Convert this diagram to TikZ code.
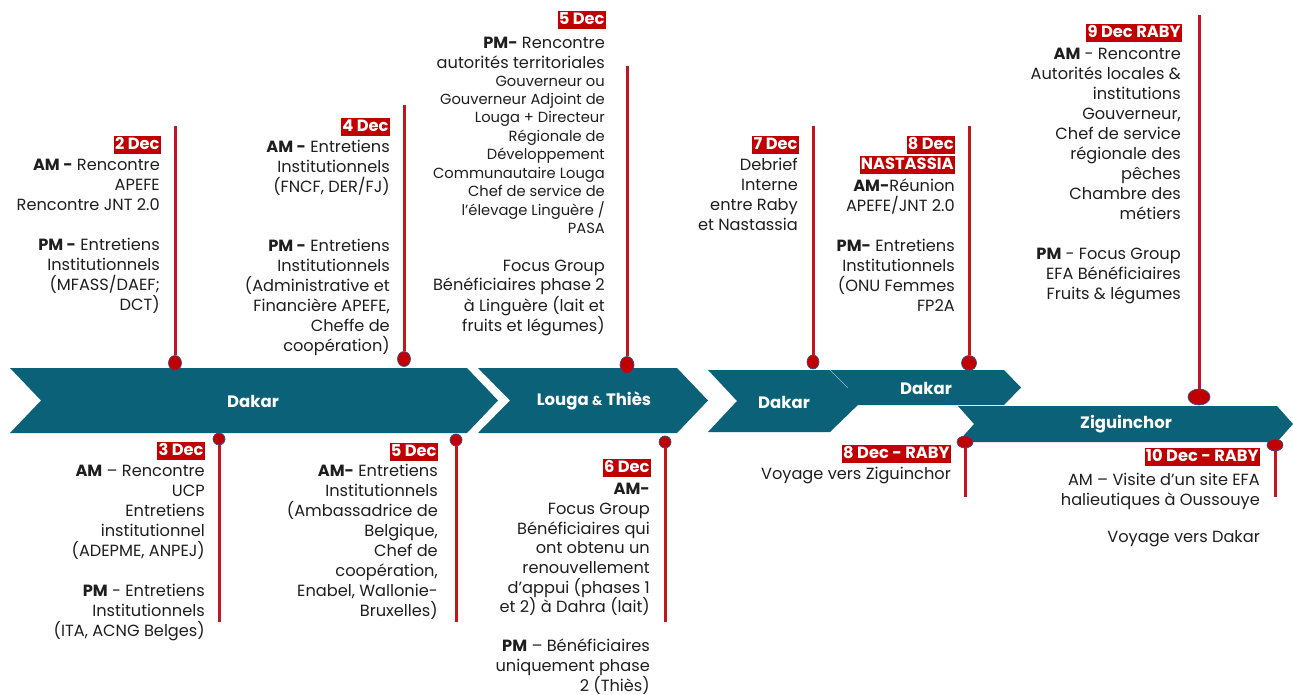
\documentclass[tikz,border=0pt]{standalone}
\usepackage{fontspec}
\setmainfont{Poppins}
\usetikzlibrary{shapes.geometric}
\definecolor{band}{HTML}{0B6177}
\definecolor{datered}{HTML}{C00000}
\definecolor{stemred}{HTML}{C0161C}
\definecolor{dotedge}{HTML}{3A4D8F}
\definecolor{ink}{HTML}{1E1E1E}
\definecolor{seam}{HTML}{9DB8C2}
\newcommand{\lnstart}{\rule{0pt}{13pt}}
\tikzset{
  bandshape/.style={fill=band, draw=none},
  bandlabel/.style={text=white, font=\bfseries\fontsize{16.5}{18}\selectfont, inner sep=0},
  datebox/.style={fill=datered, text=white, font=\bfseries\fontsize{16.3}{18}\selectfont,
    inner xsep=1.2pt, inner ysep=1.5pt, text height=12pt, text depth=3pt, anchor=east},
  txt/.style={align=right, anchor=north east, inner sep=0, text=ink,
    font=\fontsize{16.2}{20}\selectfont},
  smalltxt/.style={txt, font=\fontsize{14.7}{18.4}\selectfont},
  stem/.style={draw=stemred, line width=3pt},
  dot/.style={ellipse, fill=datered, draw=dotedge, line width=0.7pt, inner sep=0},
}
\begin{document}
\begin{tikzpicture}[x=1pt,y=-1pt]
\useasboundingbox (0,0) rectangle (1293,695);

% ---- location bands ----
\fill[bandshape] (10,368) -- (467,368) -- (498,400.5) -- (467,433) -- (10,433) -- (41,400.5) -- cycle;
\node[bandlabel] (dakarA) at (253,401) {Dakar};

\fill[bandshape] (478,368) -- (677,368) -- (708,400.5) -- (677,433) -- (478,433) -- (510,400.5) -- cycle;
\node[bandlabel] (louga) at (594,401) {Louga {\fontsize{13}{14}\selectfont\&} Thiès};

\fill[bandshape] (830,370) -- (1004,370) -- (1021,387.5) -- (1004,405) -- (830,405) -- cycle;
\fill[bandshape] (708,370) -- (830,370) -- (862,401) -- (830,432) -- (708,432) -- (737,401) -- cycle;
\draw[seam, line width=0.6pt] (830,370) -- (848,388);
\node[bandlabel] (dakarB) at (784,402) {Dakar};
\node[bandlabel] (dakarC) at (926,388) {Dakar};

\fill[bandshape] (958,406) -- (1277,406) -- (1293,424) -- (1277,442) -- (958,442) -- (974,424) -- cycle;
\node[bandlabel] (zig) at (1126,424) {Ziguinchor};

% ---- stems and markers above the bands ----
\node[dot, minimum width=13pt, minimum height=15pt] (p2) at (175,363) {};
\coordinate (e2) at (175,126);
\draw[stem] (p2.north) -- (e2);

\node[dot, minimum width=13pt, minimum height=15pt] (p4) at (404,359) {};
\coordinate (e4) at (404,105);
\draw[stem] (p4.north) -- (e4);

\node[dot, minimum width=14pt, minimum height=17pt] (p5t) at (627,365) {};
\coordinate (e5t) at (627,66);
\draw[stem] (p5t.north) -- (e5t);

\node[dot, minimum width=12pt, minimum height=14pt] (p7) at (813,362) {};
\coordinate (e7) at (813,126);
\draw[stem] (p7.north) -- (e7);

\node[dot, minimum width=15pt, minimum height=15pt] (p8) at (969,363) {};
\coordinate (e8) at (969,126);
\draw[stem] (p8.north) -- (e8);

\node[dot, minimum width=22pt, minimum height=16pt] (p9) at (1199,397) {};
\coordinate (e9) at (1199,15);
\draw[stem] (p9.north) -- (e9);

% ---- stems and markers below the bands ----
\node[dot, minimum width=12pt, minimum height=12pt] (p3) at (219,439) {};
\coordinate (e3) at (219,622);
\draw[stem] (p3.south) -- (e3);

\node[dot, minimum width=12pt, minimum height=12pt] (p5b) at (456,440) {};
\coordinate (e5b) at (456,622);
\draw[stem] (p5b.south) -- (e5b);

\node[dot, minimum width=12pt, minimum height=12pt] (p6) at (665,442) {};
\coordinate (e6) at (665,622);
\draw[stem] (p6.south) -- (e6);

\node[dot, minimum width=16pt, minimum height=12pt] (p8r) at (965,442) {};
\coordinate (e8r) at (965,497);
\draw[stem] (p8r.south) -- (e8r);

\node[dot, minimum width=16pt, minimum height=12pt] (p10) at (1275,445) {};
\coordinate (e10) at (1275,497);
\draw[stem] (p10.south) -- (e10);

% ---- 2 Dec ----
\node[datebox] (d2) at (161,145) {2 Dec};
\node[txt] (t2) at (160,157.5) {\lnstart\textbf{AM -} Rencontre\\APEFE\\Rencontre JNT 2.0\\[20pt]
  \textbf{PM -} Entretiens\\Institutionnels\\(MFASS/DAEF;\\DCT)};

% ---- 4 Dec ----
\node[datebox] (d4) at (390,127) {4 Dec};
\node[txt] (t4) at (390,139.5) {\lnstart\textbf{AM -} Entretiens\\Institutionnels\\(FNCF, DER/FJ)\\[39pt]
  \textbf{PM -} Entretiens\\Institutionnels\\(Administrative et\\Financière APEFE,\\Cheffe de\\coopération)};

% ---- 5 Dec (Louga) ----
\node[datebox] (d5t) at (606,20) {5 Dec};
\node[txt] (t5a) at (605,35.5) {\lnstart\textbf{PM-} Rencontre\\autorités territoriales};
\node[smalltxt] (t5b) at (605,74) {\rule{0pt}{12pt}Gouverneur ou\\Gouverneur Adjoint de\\Louga + Directeur\\Régionale de\\Développement\\Communautaire Louga\\Chef de service de\\l’élevage Linguère /\\PASA};
\node[txt, font=\fontsize{16.2}{19.2}\selectfont] (t5c) at (605,258.5) {\lnstart Focus Group\\Bénéficiaires phase 2\\à Linguère (lait et\\fruits et légumes)};

% ---- 7 Dec ----
\node[datebox] (d7) at (799,145) {7 Dec};
\node[txt] (t7) at (798,157.5) {\lnstart Debrief\\Interne\\entre Raby\\et Nastassia};

% ---- 8 Dec (Nastassia) ----
\node[datebox] (d8) at (955,145) {8 Dec};
\node[datebox] (d8n) at (955,165.5) {NASTASSIA};
\node[txt] (t8) at (955,178.5) {\lnstart\textbf{AM-}Réunion\\APEFE/JNT 2.0\\[20pt]
  \textbf{PM-} Entretiens\\Institutionnels\\(ONU Femmes\\FP2A};

% ---- 9 Dec (Raby) ----
\node[datebox] (d9) at (1182,33) {9 Dec RABY};
\node[txt] (t9) at (1181,46.5) {\lnstart\textbf{AM} - Rencontre\\Autorités locales \&\\institutions\\Gouverneur,\\Chef de service\\régionale des\\pêches\\Chambre des\\métiers\\[20pt]
  \textbf{PM} - Focus Group\\EFA Bénéficiaires\\Fruits \& légumes};

% ---- 3 Dec ----
\node[datebox] (d3) at (205,451) {3 Dec};
\node[txt] (t3) at (205,463.5) {\lnstart\textbf{AM} – Rencontre\\UCP\\Entretiens\\institutionnel\\(ADEPME, ANPEJ)\\[20pt]
  \textbf{PM} - Entretiens\\Institutionnels\\(ITA, ACNG Belges)};

% ---- 5 Dec (Dakar) ----
\node[datebox] (d5b) at (438,452) {5 Dec};
\node[txt] (t5d) at (438,463.5) {\lnstart\textbf{AM-} Entretiens\\Institutionnels\\(Ambassadrice de\\Belgique,\\Chef de\\coopération,\\Enabel, Wallonie-\\Bruxelles)};

% ---- 6 Dec ----
\node[datebox] (d6) at (651,468) {6 Dec};
\node[txt, font=\fontsize{16.2}{19.7}\selectfont] (t6) at (650,481.5) {\lnstart\textbf{AM-}\\Focus Group\\Bénéficiaires qui\\ont obtenu un\\renouvellement\\d’appui (phases 1\\et 2) à Dahra (lait)\\[19pt]
  \textbf{PM} – Bénéficiaires\\uniquement phase\\2 (Thiès)};

% ---- 8 Dec (Raby) ----
\node[datebox] (d8r) at (951,454) {8 Dec - RABY};
\node[txt] (t8r) at (951,466.5) {\lnstart Voyage vers Ziguinchor};

% ---- 10 Dec (Raby) ----
\node[datebox] (d10) at (1260,457) {10 Dec - RABY};
\node[txt] (t10) at (1260,472.5) {\lnstart AM – Visite d’un site EFA\\halieutiques à Oussouye\\[17pt]
  Voyage vers Dakar};
\end{tikzpicture}
\end{document}
